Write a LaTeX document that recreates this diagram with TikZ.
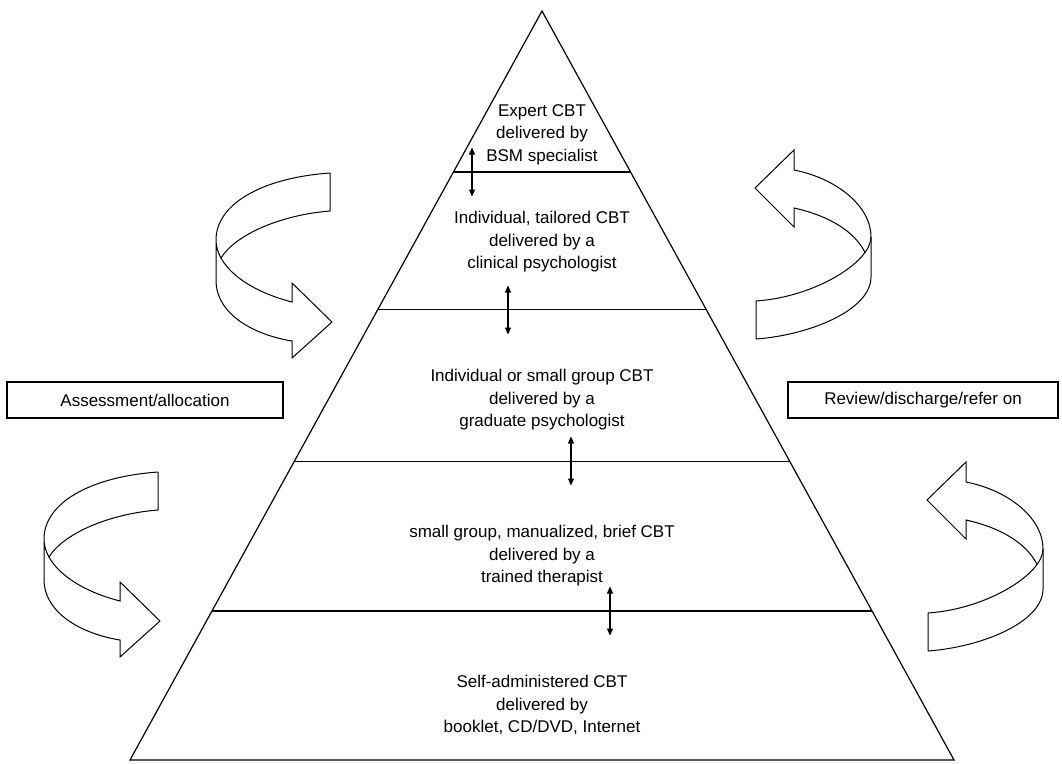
\documentclass[tikz,border=0pt]{standalone}
\usepackage{fontspec}
\setmainfont{Liberation Sans}
\usetikzlibrary{arrows.meta, calc}

% ribbon arrow on the left, tip pointing right
\newcommand{\ribbonleft}{%
  \draw[ribbon] (330,173) .. controls (260,178) and (216,205) .. (216,240)
    -- (216,280) .. controls (216,315) and (255,335) .. (292,341)
    -- (292,358) -- (332,322) -- (292,283) -- (292,302)
    .. controls (245,290) and (216,265) .. (216,240);
  \draw[ribbon] (330,173) -- (330,211) .. controls (280,215) and (235,235) .. (221,258);
}
% ribbon arrow on the right, tip pointing left
\newcommand{\ribbonright}{%
  \draw[ribbon] (756,339) -- (756,301) .. controls (815,297) and (871,262) .. (871,237)
    .. controls (871,205) and (835,178) .. (794,170)
    -- (794,150) -- (755,188) -- (794,227) -- (794,208)
    .. controls (830,216) and (855,232) .. (865,252.5);
  \draw[ribbon] (871,237) -- (871,277) .. controls (871,310) and (810,335) .. (756,339);
}

\begin{document}
\begin{tikzpicture}[
  x=1pt, y=-1pt,
  font=\fontsize{17}{22.5}\selectfont,
  tier/.style={align=center, inner sep=0pt},
  sidebox/.style={draw, line width=1.1pt, minimum height=36pt, inner sep=0pt},
  dbl/.style={{Triangle[length=7pt,width=6pt]}-{Triangle[length=7pt,width=6pt]}, line width=1.1pt},
  ribbon/.style={line width=1pt, line join=miter},
  edge/.style={line width=1.2pt}
]
\useasboundingbox (0,0) rectangle (1062,763);

% pyramid
\coordinate (apex) at (542,11);
\coordinate (bl) at (130,760);
\coordinate (br) at (954,760);
\draw[edge, line join=miter] (bl) -- (apex) -- (br) -- cycle;
\foreach \t in {0.215,0.399,0.601,0.801}
  \draw[edge] ($(apex)!\t!(bl)$) -- ($(apex)!\t!(br)$);

% tier texts
\node[tier] (expert) at (542,134.5) {Expert CBT\\delivered by\\BSM specialist};
\node[tier] (tailored) at (542,242) {Individual, tailored CBT\\delivered by a\\clinical psychologist};
\node[tier] (graduate) at (542,400) {Individual or small group CBT\\delivered by a\\graduate psychologist};
\node[tier] (manual) at (542,556) {small group, manualized, brief CBT\\delivered by a\\trained therapist};
\node[tier] (selfhelp) at (542,705) {Self-administered CBT\\delivered by\\booklet, CD/DVD, Internet};

% step arrows between tiers
\foreach \x/\y [count=\i] in {472/172,508/310,571/461,610/611} {
  \coordinate (up\i) at (\x,\y-24.5);
  \coordinate (dn\i) at (\x,\y+24.5);
  \draw[dbl] (up\i) -- (dn\i);
}

% side boxes
\node[sidebox, minimum width=276pt] (assess) at (145,400) {Assessment/allocation};
\node[sidebox, minimum width=270pt] (review) at (923,400) {Review/discharge/refer on};

% curved ribbon arrows
\ribbonleft
\begin{scope}[shift={(-172,299)}]
  \ribbonleft
\end{scope}
\ribbonright
\begin{scope}[shift={(172,312)}]
  \ribbonright
\end{scope}
\end{tikzpicture}
\end{document}
